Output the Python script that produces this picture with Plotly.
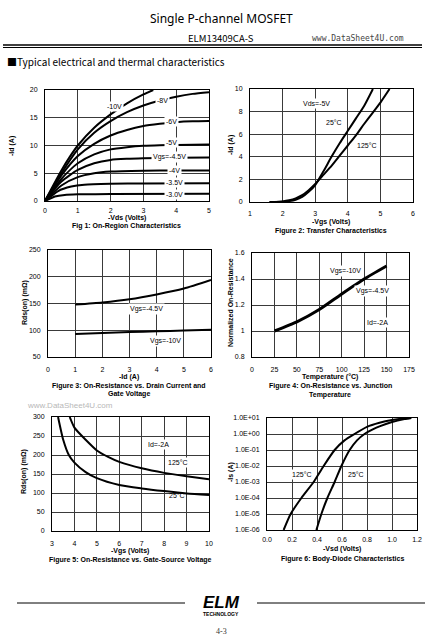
import plotly.graph_objects as go

W, H = 442, 641
def px(x): return x / W
def py(y): return 1 - y / H

# ---------------- DATA ----------------
# Fig 1: On-Region Characteristics (-Vds vs -Id) per Vgs
f1_labels = ["-10V", "-8V", "-6V", "-5V", "Vgs=-4.5V", "-4V", "-3.5V", "-3.0V"]
f1_vds = {
    "-10V": [0, 0.25, 0.5, 0.75, 1, 1.5, 2, 2.5, 3, 3.3],
    "-8V": [0, 0.5, 1, 1.5, 2, 2.5, 3, 3.5, 4, 4.5, 5],
    "-6V": [0, 0.5, 1, 1.5, 2, 2.5, 3, 3.5, 4, 4.5, 5],
    "-5V": [0, 0.5, 1, 1.5, 2, 2.5, 3, 3.5, 4, 5],
    "Vgs=-4.5V": [0, 0.5, 1, 1.5, 2, 2.5, 3, 4, 5],
    "-4V": [0, 0.5, 1, 1.5, 2, 3, 4, 5],
    "-3.5V": [0, 0.4, 0.8, 1.2, 2, 3, 5],
    "-3.0V": [0, 0.3, 0.6, 1, 2, 5],
}
f1_id = {
    "-10V": [0, 2.8, 5.5, 7.9, 10, 13.2, 15.6, 17.6, 19.2, 20],
    "-8V": [0, 5.0, 9.3, 12.3, 14.4, 16.0, 17.2, 18.1, 18.8, 19.3, 19.6],
    "-6V": [0, 4.6, 8.1, 10.3, 11.8, 12.8, 13.5, 13.9, 14.2, 14.35, 14.4],
    "-5V": [0, 4.0, 6.8, 8.4, 9.3, 9.7, 9.95, 10.05, 10.1, 10.2],
    "Vgs=-4.5V": [0, 3.5, 5.6, 6.8, 7.4, 7.6, 7.7, 7.8, 7.85],
    "-4V": [0, 2.8, 4.3, 5.0, 5.3, 5.45, 5.5, 5.5],
    "-3.5V": [0, 1.8, 2.6, 2.95, 3.1, 3.15, 3.2],
    "-3.0V": [0, 0.8, 1.1, 1.2, 1.25, 1.3],
}
f1_label_x = [2.13, 3.58, 3.86, 3.86, 3.81, 3.96, 3.96, 3.96]
f1_label_y = [17.1, 18.1, 14.4, 10.6, 7.87, 5.46, 3.3, 1.2]

# Fig 2: Transfer characteristics
f2_vgs_25 = [1.6, 2.0, 2.2, 2.4, 2.6, 2.8, 3.0, 3.25, 3.5, 3.75, 4.0, 4.25, 4.5, 4.77]
f2_id_25 = [0, 0.02, 0.08, 0.2, 0.45, 0.9, 1.5, 2.7, 4.0, 5.2, 6.3, 7.4, 8.5, 10]
f2_vgs_125 = [1.6, 1.8, 2.0, 2.2, 2.4, 2.6, 2.8, 3.0, 3.25, 3.5, 3.75, 4.0, 4.25, 4.5, 4.75, 5.0, 5.28]
f2_id_125 = [0, 0.01, 0.05, 0.15, 0.32, 0.6, 1.05, 1.6, 2.4, 3.2, 4.1, 5.0, 5.9, 6.9, 7.85, 8.8, 10]

# Fig 3: Rds(on) vs Id
f3_id = [1, 2, 3, 4, 5, 6]
f3_r45 = [148, 152, 158, 167, 178, 194]
f3_r10 = [93, 95, 96.5, 98, 99.5, 101]

# Fig 4: normalized Rds(on) vs temperature
f4_t = [25, 50, 75, 100, 125, 150]
f4_r = [1.0, 1.07, 1.165, 1.285, 1.40, 1.50]

# Fig 5: Rds(on) vs Vgs
f5_vgs_25 = [3.27, 3.5, 3.75, 4, 4.5, 5, 6, 7, 8, 9, 10]
f5_r_25 = [300, 240, 200, 180, 155, 139, 121, 112, 105, 99, 95]
f5_vgs_125 = [3.79, 4, 4.5, 5, 5.5, 6, 7, 8, 9, 10]
f5_r_125 = [300, 272, 240, 212, 195, 182, 165, 153, 144, 136]

# Fig 6: Body diode
f6_vsd_25 = [0.395, 0.435, 0.483, 0.541, 0.595, 0.661, 0.72, 0.78, 0.85, 0.9, 1.0, 1.1, 1.155]
f6_is_25 = [1e-6, 1e-5, 1e-4, 1e-3, 1e-2, 1e-1, 0.4, 1.0, 2.0, 3.0, 5.6, 8.5, 10]
f6_vsd_125 = [0.133, 0.189, 0.275, 0.373, 0.453, 0.541, 0.62, 0.70, 0.8, 0.9, 1.0, 1.1, 1.14]
f6_is_125 = [1e-6, 1e-5, 1e-4, 1e-3, 1e-2, 1e-1, 0.4, 1.0, 2.8, 5.0, 7.4, 9.5, 10]
f6_tickvals = [1e-6, 1e-5, 1e-4, 1e-3, 1e-2, 1e-1, 1e0, 1e1]
f6_ticktext = ["1.0E-06", "1.0E-05", "1.0E-04", "1.0E-03", "1.0E-02", "1.0E-01", "1.0E+00", "1.0E+01"]

# ---------------- FIGURE ----------------
FONT = "Liberation Sans, Arial, sans-serif"
fig = go.Figure()

def line(x, y, n, w=2):
    fig.add_trace(go.Scatter(x=x, y=y, mode="lines", xaxis="x" + ("" if n == 1 else str(n)),
                             yaxis="y" + ("" if n == 1 else str(n)), line=dict(color="black", width=w, shape="spline", smoothing=0.6),
                             showlegend=False, hoverinfo="skip"))

for k in f1_labels:
    line(f1_vds[k], f1_id[k], 1)
line(f2_vgs_25, f2_id_25, 2)
line(f2_vgs_125, f2_id_125, 2)
line(f3_id, f3_r45, 3)
line(f3_id, f3_r10, 3)
line(f4_t, f4_r, 4, 3)
line(f5_vgs_25, f5_r_25, 5)
line(f5_vgs_125, f5_r_125, 5)
line(f6_vsd_25, f6_is_25, 6)
line(f6_vsd_125, f6_is_125, 6)

boxes = {
    1: dict(x=(45, 209), y=(90, 201), xr=[0, 5], yr=[0, 20], dx=1, dy=5, sx=3),
    2: dict(x=(250, 413), y=(89, 202), xr=[1, 6], yr=[0, 10], dx=1, dy=2, sx=5),
    3: dict(x=(48, 211), y=(250, 357), xr=[0, 6], yr=[50, 250], dx=1, dy=50, sx=6),
    4: dict(x=(252, 409), y=(253, 357), xr=[0, 175], yr=[0.8, 1.6], dx=25, dy=0.2, sx=6),
    5: dict(x=(52, 209), y=(417, 531), xr=[3, 10], yr=[0, 300], dx=1, dy=50, sx=6),
    6: dict(x=(267, 417), y=(418, 530), xr=[0, 1.2], yr=[-6, 1], dx=0.2, dy=None, sx=3),
}
layout = {}
tickfont = dict(family=FONT, size=7, color="black")
for n, b in boxes.items():
    s = "" if n == 1 else str(n)
    xa = dict(domain=[px(b["x"][0]), px(b["x"][1])], range=b["xr"], dtick=b["dx"], tick0=b["xr"][0],
              anchor="y" + s, showgrid=True, gridcolor="#3a3a3a", gridwidth=1, zeroline=False,
              showline=True, linecolor="black", linewidth=1, mirror=True, ticks="", tickfont=tickfont,
              ticklabelstandoff=b["sx"], fixedrange=True, automargin=False)
    ya = dict(domain=[py(b["y"][1]), py(b["y"][0])], range=b["yr"], anchor="x" + s,
              showgrid=True, gridcolor="#3a3a3a", gridwidth=1, zeroline=False,
              showline=True, linecolor="black", linewidth=1, mirror=True, ticks="", tickfont=tickfont,
              ticklabelstandoff=5, fixedrange=True, automargin=False)
    if b["dy"] is not None:
        ya.update(dtick=b["dy"], tick0=b["yr"][0])
    if n == 4:
        ya.update(tickvals=[0.8, 1.0, 1.2, 1.4, 1.6], ticktext=["0.8", "1", "1.2", "1.4", "1.6"])
    if n == 6:
        ya.update(type="log", tickvals=f6_tickvals, ticktext=f6_ticktext)
        xa.update(tickformat=".1f")
    layout["xaxis" + s] = xa
    layout["yaxis" + s] = ya

ann = []
def txt(x, y, t, size=7, bold=False, xanchor="center", color="black", family=FONT, angle=0):
    ann.append(dict(x=px(x), y=py(y), xref="paper", yref="paper", text=("<b>%s</b>" % t) if bold else t,
                    showarrow=False, xanchor=xanchor, yanchor="middle", textangle=angle,
                    font=dict(family=family, size=size, color=color)))

def dlabel(n, x, y, t, bg=True):
    s = "" if n == 1 else str(n)
    a = dict(x=x, y=y, xref="x" + s, yref="y" + s, text=t, showarrow=False,
             font=dict(family=FONT, size=7, color="black"), borderpad=1)
    if bg:
        a["bgcolor"] = "white"
    ann.append(a)

# headers
txt(221, 18, "Single P-channel MOSFET", size=12, family="Noto Sans, Liberation Sans, sans-serif")
txt(221, 37.5, "ELM13409CA-S", size=9.5, family="Noto Sans CJK JP, Noto Sans, sans-serif")
txt(358, 38, "www.DataSheet4U.com", size=8, color="#444", family="DejaVu Sans Mono, monospace")
txt(5, 61, "■Typical electrical and thermal characteristics", size=10, xanchor="left",
    family="Noto Sans CJK JP, Noto Sans, sans-serif")
txt(70, 405, "www.DataSheet4U.com", size=8, color="#b8b8b8", family="Liberation Sans, sans-serif")

# Fig 1
for lx, ly, lt in zip(f1_label_x, f1_label_y, f1_labels):
    dlabel(1, lx, ly, lt)
txt(127, 217.5, "-Vds (Volts)", bold=True)
txt(127, 226.5, "Fig 1: On-Region Characteristics", bold=True)
txt(12, 146, "-Id (A)", bold=True, angle=-90)

# Fig 2
dlabel(2, 3.04, 8.76, "Vds=-5V")
dlabel(2, 3.59, 7.03, "25°C")
dlabel(2, 4.59, 4.96, "125°C")
txt(331, 221.5, "-Vgs (Volts)", bold=True)
txt(331, 230.5, "Figure 2: Transfer Characteristics", bold=True)
txt(231, 145, "-Id (A)", bold=True, angle=-90)

# Fig 3
dlabel(3, 3.63, 140, "Vgs=-4.5V")
dlabel(3, 4.31, 79, "Vgs=-10V")
txt(129, 377, "-Id (A)", bold=True)
txt(129, 385.5, "Figure 3: On-Resistance vs. Drain Current and", bold=True)
txt(129, 393.5, "Gate Voltage", bold=True)
txt(25, 303, "Rds(on) (mΩ)", bold=True, angle=-90)

# Fig 4
dlabel(4, 103.8, 1.458, "Vgs=-10V")
dlabel(4, 134.7, 1.305, "Vgs=-4.5V")
dlabel(4, 140, 1.066, "Id=-2A")
txt(330, 377, "Temperature (°C)", bold=True)
txt(330, 386, "Figure 4: On-Resistance vs. Junction", bold=True)
txt(330, 394.5, "Temperature", bold=True)
txt(231, 303, "Normalized On-Resistance", bold=True, angle=-90)

# Fig 5
dlabel(5, 7.74, 227, "Id=-2A")
dlabel(5, 8.63, 180, "125°C")
dlabel(5, 8.56, 93, "25°C", bg=False)
txt(130, 551, "-Vgs (Volts)", bold=True)
txt(130, 559.5, "Figure 5: On-Resistance vs. Gate-Source Voltage", bold=True)
txt(24, 472, "Rds(on) (mΩ)", bold=True, angle=-90)

# Fig 6 (log axis: annotation y given as log10 value)
dlabel(6, 0.28, -2.51, "125°C")
dlabel(6, 0.714, -2.51, "25°C")
txt(342, 549, "-Vsd (Volts)", bold=True)
txt(342, 559, "Figure 6: Body-Diode Characteristics", bold=True)
txt(231, 472, "-Is (A)", bold=True, angle=-90)

# footer
txt(221, 602, "<b><i>ELM</i></b>", size=17, family="Liberation Sans, sans-serif")
txt(221, 614, "TECHNOLOGY", size=5, bold=True)
txt(221, 631, "4-3", size=8, color="#333", family="Liberation Serif, serif")

shapes = [
    dict(type="line", xref="paper", yref="paper", x0=px(3), x1=px(422), y0=py(45), y1=py(45),
         line=dict(color="black", width=1.5)),
    dict(type="line", xref="paper", yref="paper", x0=px(3), x1=px(422), y0=py(47.5), y1=py(47.5),
         line=dict(color="black", width=1)),
    dict(type="line", xref="paper", yref="paper", x0=px(17), x1=px(185), y0=py(603), y1=py(603),
         line=dict(color="black", width=1)),
    dict(type="line", xref="paper", yref="paper", x0=px(257), x1=px(425), y0=py(603), y1=py(603),
         line=dict(color="black", width=1)),
]

fig.update_layout(width=W, height=H, margin=dict(l=0, r=0, t=0, b=0, autoexpand=False), paper_bgcolor="white",
                  plot_bgcolor="white", annotations=ann, shapes=shapes, showlegend=False, **layout)
fig.write_html("out.html", config=dict(displayModeBar=False),
               post_script="document.body.style.margin='0';document.body.style.overflow='hidden';")
